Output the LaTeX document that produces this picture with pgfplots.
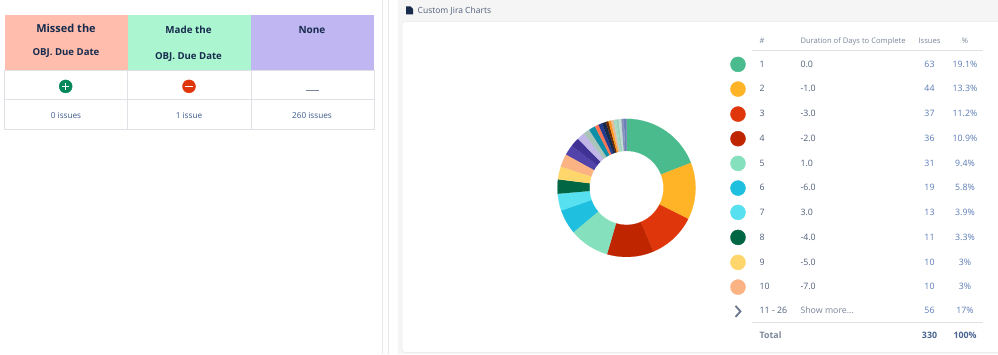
\documentclass[border=0pt]{standalone}
\usepackage{pgfplots}
\pgfplotsset{compat=1.18}
\usepackage{fontspec}
\setmainfont{Open Sans}
\definecolor{s1}{HTML}{4ABB8D}\definecolor{s2}{HTML}{FFB326}\definecolor{s3}{HTML}{E0360C}
\definecolor{s4}{HTML}{BF2600}\definecolor{s5}{HTML}{85E0BD}\definecolor{s6}{HTML}{1FBFE0}
\definecolor{s7}{HTML}{56E0F0}\definecolor{s8}{HTML}{006644}\definecolor{s9}{HTML}{FFD66B}
\definecolor{s10}{HTML}{FBB384}\definecolor{s11}{HTML}{5243AA}\definecolor{s12}{HTML}{403294}
\definecolor{s13}{HTML}{C0B6E8}\definecolor{s14}{HTML}{A9C4B8}\definecolor{s15}{HTML}{0E8FA8}
\definecolor{s16}{HTML}{FF7452}\definecolor{s17}{HTML}{253C8E}\definecolor{s18}{HTML}{172B4D}
\definecolor{s19}{HTML}{6B2A00}\definecolor{s20}{HTML}{FF991F}\definecolor{s21}{HTML}{E8B89A}
\definecolor{s22}{HTML}{A6D9C3}\definecolor{s23}{HTML}{9FD0BE}\definecolor{s24}{HTML}{C4DED2}
\definecolor{s25}{HTML}{8993C0}\definecolor{s26}{HTML}{6B80B5}
\definecolor{brd}{HTML}{DFE1E6}\definecolor{hd}{HTML}{172B4D}\definecolor{gr}{HTML}{505F79}
\definecolor{hg}{HTML}{7A869A}\definecolor{bl}{HTML}{5A7BB5}\definecolor{lk}{HTML}{3B5A8C}
\definecolor{h1}{HTML}{FFBDAD}\definecolor{h2}{HTML}{ABF5D1}\definecolor{h3}{HTML}{C0B6F2}
\definecolor{gn}{HTML}{00875A}
\newcommand\T[6]{\node[anchor=#3,inner sep=0pt,text=#5,font=#4] at (axis cs:#1,#2) {#6};}
\newcommand\fs[1]{\fontsize{#1}{#1}\selectfont}
\begin{document}
\begin{tikzpicture}
\gdef\cum{0}\gdef\allslices{}
\foreach \val/\col in {63/s1,44/s2,37/s3,36/s4,31/s5,19/s6,13/s7,11/s8,10/s9,10/s10,
  8/s11,7/s12,6/s13,5/s14,5/s15,3/s16,3/s17,3/s18,2/s19,2/s20,2/s21,2/s22,2/s23,2/s24,2/s25,2/s26}{
  \pgfmathsetmacro\sa{\cum/330*360}
  \pgfmathsetmacro\sb{(\cum+\val)/330*360}
  \pgfmathtruncatemacro\nn{\val+1}
  \gdef\pts{}
  \foreach \ii in {0,...,\nn}{
    \pgfmathsetmacro\ang{\sa+(\sb-\sa)*\ii/\nn}
    \pgfmathsetmacro\px{69*sin(\ang)}\pgfmathsetmacro\py{69*cos(\ang)}
    \xdef\pts{\pts(\px,\py) }}
  \foreach \ii in {\nn,...,0}{
    \pgfmathsetmacro\ang{\sa+(\sb-\sa)*\ii/\nn}
    \pgfmathsetmacro\px{37*sin(\ang)}\pgfmathsetmacro\py{37*cos(\ang)}
    \xdef\pts{\pts(\px,\py) }}
  \xdef\allslices{\unexpanded\expandafter{\allslices}\noexpand\addplot[fill=\col,draw=\col,line width=0.15pt] coordinates {\pts};}
  \pgfmathsetmacro\cumnew{\cum+\val}
  \xdef\cum{\cumnew}
}
\begin{axis}[at={(0pt,0pt)},anchor=south west,width=998pt,height=354pt,scale only axis,
  xmin=0,xmax=998,ymin=0,ymax=354,y dir=reverse,hide axis,clip=false]
% page
\fill[white] (axis cs:0,0) rectangle (axis cs:998,354);
\draw[brd!80,line width=0.8pt] (axis cs:382,0)--(axis cs:382,354);
\draw[brd!80,line width=0.8pt] (axis cs:388.5,0)--(axis cs:388.5,354);
\fill[black!4] (axis cs:398,0) rectangle (axis cs:998,354);
\begin{scope}
\clip (axis cs:0,0) rectangle (axis cs:998,354);
\filldraw[fill=white,draw=brd!70,rounded corners=3pt,line width=0.5pt] (axis cs:402,21) rectangle (axis cs:1010,352);
\end{scope}
% left table
\fill[h1] (axis cs:4.5,15) rectangle (axis cs:127.7,69.7);
\fill[h2] (axis cs:127.7,15) rectangle (axis cs:251.3,69.7);
\fill[h3] (axis cs:251.3,15) rectangle (axis cs:374,69.7);
\draw[brd,line width=0.9pt] (axis cs:4.5,69.7) rectangle (axis cs:374,128.7);
\draw[brd,line width=0.9pt] (axis cs:4.5,99.3)--(axis cs:374,99.3);
\draw[brd,line width=0.9pt] (axis cs:127.7,69.7)--(axis cs:127.7,128.7);
\draw[brd,line width=0.9pt] (axis cs:251.3,69.7)--(axis cs:251.3,128.7);
\T{66}{29.3}{mid}{\fs{11}\bfseries}{hd}{Missed the}
\T{66}{52.7}{mid}{\fs{9.6}\bfseries}{hd}{OBJ. Due Date}
\T{188.5}{30.7}{mid}{\fs{9.8}\bfseries}{hd}{Made the}
\T{188.5}{56.3}{mid}{\fs{9.6}\bfseries}{hd}{OBJ. Due Date}
\T{312}{30.5}{mid}{\fs{10}\bfseries}{hd}{None}
\addplot[only marks,mark=*,mark size=6.5pt,mark options={fill=gn,draw=gn}] coordinates {(65.7,86)};
\addplot[only marks,mark=*,mark size=6.5pt,mark options={fill=s3,draw=s3}] coordinates {(189,86)};
\addplot[only marks,mark=+,mark size=3.7pt,mark options={draw=white,line width=1.5pt}] coordinates {(65.7,86)};
\addplot[only marks,mark=-,mark size=3.7pt,mark options={draw=white,line width=1.5pt}] coordinates {(189,86)};
\draw[hg,line width=0.9pt] (axis cs:305.5,89.8)--(axis cs:318.5,89.8);
\T{66}{115}{mid}{\fs{8.2}}{lk}{0 issues}
\T{189}{115}{mid}{\fs{8.2}}{lk}{1 issue}
\T{312}{115}{mid}{\fs{8.2}}{lk}{260 issues}
% card title
\fill[hd] (axis cs:406,6)--(axis cs:410.5,6)--(axis cs:413,8.5)--(axis cs:413,14)--(axis cs:406,14)--cycle;
\T{417.5}{10}{mid west}{\fs{8.5}}{gr}{Custom Jira Charts}
% legend table
\T{759.5}{40.7}{mid west}{\fs{7.6}}{hg}{\#}
\T{800.3}{40.7}{mid west}{\fs{7.6}}{hg}{Duration of Days to Complete}
\T{929.5}{40.7}{mid}{\fs{7.6}}{hg}{Issues}
\T{965}{40.7}{mid}{\fs{7.6}}{hg}{\%}
\draw[brd,line width=0.8pt] (axis cs:752,50.3)--(axis cs:983,50.3);
\draw[brd,line width=0.8pt] (axis cs:752,322.3)--(axis cs:983,322.3);
\addplot[only marks,mark=*,mark size=7.5pt,mark options={fill=s1,draw=s1}] coordinates {(738,64)};
\addplot[only marks,mark=*,mark size=7.5pt,mark options={fill=s2,draw=s2}] coordinates {(738,88.7)};
\addplot[only marks,mark=*,mark size=7.5pt,mark options={fill=s3,draw=s3}] coordinates {(738,113.7)};
\addplot[only marks,mark=*,mark size=7.5pt,mark options={fill=s4,draw=s4}] coordinates {(738,138.3)};
\addplot[only marks,mark=*,mark size=7.5pt,mark options={fill=s5,draw=s5}] coordinates {(738,163)};
\addplot[only marks,mark=*,mark size=7.5pt,mark options={fill=s6,draw=s6}] coordinates {(738,187.7)};
\addplot[only marks,mark=*,mark size=7.5pt,mark options={fill=s7,draw=s7}] coordinates {(738,212)};
\addplot[only marks,mark=*,mark size=7.5pt,mark options={fill=s8,draw=s8}] coordinates {(738,237)};
\addplot[only marks,mark=*,mark size=7.5pt,mark options={fill=s9,draw=s9}] coordinates {(738,262)};
\addplot[only marks,mark=*,mark size=7.5pt,mark options={fill=s10,draw=s10}] coordinates {(738,286.7)};
\draw[gr!85,line width=1.8pt] (axis cs:735.5,305.5)--(axis cs:740.5,311)--(axis cs:735.5,316.5);
\newcommand\Row[5]{\T{759.5}{#1}{mid west}{\fs{8.8}}{gr}{#2}\T{800.3}{#1}{mid west}{\fs{8.8}}{gr}{#3}\T{929.5}{#1}{mid}{\fs{8.8}}{bl}{#4}\T{965}{#1}{mid}{\fs{8.8}}{bl}{#5}}
\Row{64}{1}{0.0}{63}{19.1\%}
\Row{88.7}{2}{-1.0}{44}{13.3\%}
\Row{113.7}{3}{-3.0}{37}{11.2\%}
\Row{138.3}{4}{-2.0}{36}{10.9\%}
\Row{163}{5}{1.0}{31}{9.4\%}
\Row{187.7}{6}{-6.0}{19}{5.8\%}
\Row{212}{7}{3.0}{13}{3.9\%}
\Row{237}{8}{-4.0}{11}{3.3\%}
\Row{262}{9}{-5.0}{10}{3\%}
\Row{286.7}{10}{-7.0}{10}{3\%}
\T{759.5}{310.7}{mid west}{\fs{8.8}}{gr}{11 - 26}
\T{800.3}{310.3}{mid west}{\fs{8.8}}{hg}{Show more...}
\T{929.5}{310.7}{mid}{\fs{8.8}}{bl}{56}
\T{965}{310.7}{mid}{\fs{8.8}}{bl}{17\%}
\T{759.5}{335.3}{mid west}{\fs{8.8}\bfseries}{hg}{Total}
\T{929.5}{335.3}{mid}{\fs{8.8}\bfseries}{bl!80!black}{330}
\T{965}{335.3}{mid}{\fs{8.8}\bfseries}{bl!80!black}{100\%}
\end{axis}
\begin{axis}[at={(626.5pt,166.5pt)},anchor=center,width=138pt,height=138pt,scale only axis,
  xmin=-69,xmax=69,ymin=-69,ymax=69,hide axis,clip=false]
\allslices
\end{axis}
\end{tikzpicture}
\end{document}
